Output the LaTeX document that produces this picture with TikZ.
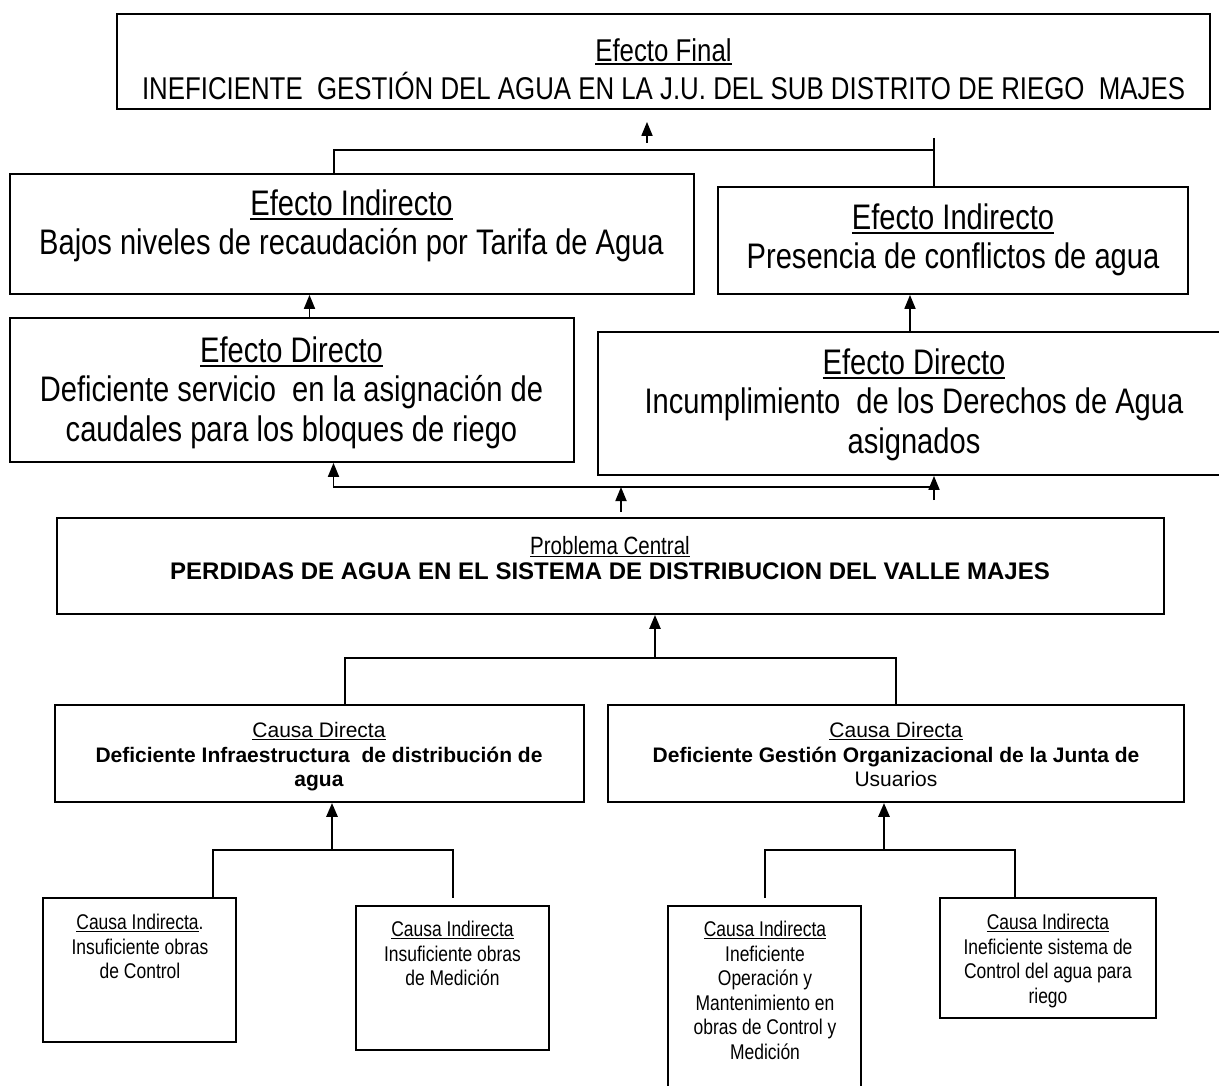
\documentclass[tikz,border=0pt]{standalone}
\usepackage{fontspec}
\setmainfont{Liberation Sans}
\newfontfamily\narrow[FakeStretch=0.82]{Liberation Sans}
\usetikzlibrary{arrows.meta,fit}

\newcommand{\subrayado}[1]{\setbox0\hbox{#1}\rlap{\vrule width\wd0 height -0.06em depth 0.12em}\box0}

\tikzset{
    caja/.style={draw, line width=1.8pt, inner sep=0pt},
    texto/.style={anchor=north, align=center, inner sep=0pt},
    grande/.style={font=\narrow\fontsize{35.5}{39.5}\selectfont},
    chico/.style={font=\narrow\fontsize{21.3}{24.5}\selectfont},
}

\begin{document}
\begin{tikzpicture}[x=1pt, y=-1pt, >={Triangle[length=14pt,width=11pt]}, line width=1.8pt]
    \clip (0,0) rectangle (1219,1086);

    % efectos
    \node[caja, fit={(117,14) (1210,109)}] (final) {};
    \node[caja, fit={(10,174) (694,294)}] (indizq) {};
    \node[caja, fit={(718,187) (1188,294)}] (indder) {};
    \node[caja, fit={(10,318) (574,462)}] (dirizq) {};
    \node[caja, fit={(598,332) (1235,475)}] (dirder) {};

    \node[texto, font=\narrow\fontsize{31.5}{38}\selectfont] (tfinal) at (663.5,37.4)
        {\subrayado{Efecto Final}\\ INEFICIENTE~ GESTIÓN DEL AGUA EN LA J.U. DEL SUB DISTRITO DE RIEGO~ MAJES};
    \node[texto, grande] (tindizq) at (351.5,188.8)
        {\subrayado{Efecto Indirecto}\\ Bajos niveles de recaudación por Tarifa de Agua};
    \node[texto, grande] (tindder) at (953,202.8)
        {\subrayado{Efecto Indirecto}\\ Presencia de conflictos de agua};
    \node[texto, grande] (tdirizq) at (291.5,335.8)
        {\subrayado{Efecto Directo}\\ Deficiente servicio~ en la asignación de\\ caudales para los bloques de riego};
    \node[texto, grande] (tdirder) at (914,347.8)
        {\subrayado{Efecto Directo}\\ Incumplimiento~ de los Derechos de Agua\\ asignados};

    % problema central
    \node[caja, fit={(57,518) (1164,614)}] (central) {};
    \node[texto, font=\fontsize{24}{25.6}\selectfont\bfseries] (tcentral) at (610,535)
        {{\narrow\mdseries\fontsize{25}{25.6}\selectfont\subrayado{Problema Central}}\\
         PERDIDAS DE AGUA EN EL SISTEMA DE DISTRIBUCION DEL VALLE MAJES};

    % causas
    \node[caja, fit={(55,705) (584,802)}] (dirinf) {};
    \node[caja, fit={(608,705) (1184,802)}] (dirges) {};
    \node[caja, fit={(43,898) (236,1042)}] (ind1) {};
    \node[caja, fit={(356,906) (549,1050)}] (ind2) {};
    \node[caja, fit={(668,906) (861,1100)}] (ind3) {};
    \node[caja, fit={(940,898) (1156,1018)}] (ind4) {};

    \node[texto, font=\fontsize{21}{24.5}\selectfont] (tdirinf) at (319,721.6)
        {\subrayado{Causa Directa}\\ \textbf{Deficiente Infraestructura~ de distribución de}\\ \textbf{agua}};
    \node[texto, font=\fontsize{21}{24.5}\selectfont] (tdirges) at (896,721.6)
        {\subrayado{Causa Directa}\\ \textbf{Deficiente Gestión Organizacional de la Junta de}\\ Usuarios};
    \node[texto, chico] (tind1) at (140,913.5)
        {\subrayado{Causa Indirecta}.\\ Insuficiente obras\\ de Control};
    \node[texto, chico] (tind2) at (452.5,920.5)
        {\subrayado{Causa Indirecta}\\ Insuficiente obras\\ de Medición};
    \node[texto, chico] (tind3) at (765,920.5)
        {\subrayado{Causa Indirecta}\\ Ineficiente\\ Operación y\\ Mantenimiento en\\ obras de Control y\\ Medición};
    \node[texto, chico] (tind4) at (1048,913.5)
        {\subrayado{Causa Indirecta}\\ Ineficiente sistema de\\ Control del agua para\\ riego};

    % puntos de union
    \coordinate (pfin) at (647,143);
    \coordinate (bi) at (334,150);
    \coordinate (bd) at (934,138);
    \coordinate (xa) at (309.5,306);
    \coordinate (xb) at (910,310);
    \coordinate (mi) at (333.5,487);
    \coordinate (md) at (934,500);
    \coordinate (pc) at (621,512);
    \coordinate (cb) at (655,658);
    \coordinate (ci) at (345,658);
    \coordinate (cd) at (896,658);
    \coordinate (xc) at (332,850);
    \coordinate (il) at (213,850);
    \coordinate (ir) at (453,898);
    \coordinate (xd) at (884,850);
    \coordinate (jl) at (765,898);
    \coordinate (jr) at (1015,850);

    % hacia arriba
    \draw[->, shorten >=12pt] (pfin) -- (pfin |- final.south);
    \draw (bi |- indizq.north) -- (bi) -- (bi -| bd);
    \draw (bd) -- (bd |- indder.north);
    \draw[->] (xa |- dirizq.north) -- (xa |- indizq.south);
    \draw[->] (xb |- dirder.north) -- (xb |- indder.south);
    \draw[->] (mi -| md) -- (mi) -- (mi |- dirizq.south);
    \draw[->] (md) -- (md |- dirder.south);
    \draw[->] (pc) -- (pc |- mi);

    \draw[->, line width=2.4pt] (cb) -- (cb |- central.south);
    \draw (ci |- dirinf.north) -- (ci) -- (cd) -- (cd |- dirges.north);

    \draw[->, line width=2.8pt] (xc) -- (xc |- dirinf.south);
    \draw (il |- ind1.north) -- (il) -- (il -| ir) -- (ir);
    \draw[->, line width=2.8pt] (xd) -- (xd |- dirges.south);
    \draw (jl) -- (jl |- jr) -- (jr) -- (jr |- ind4.north);
\end{tikzpicture}
\end{document}
